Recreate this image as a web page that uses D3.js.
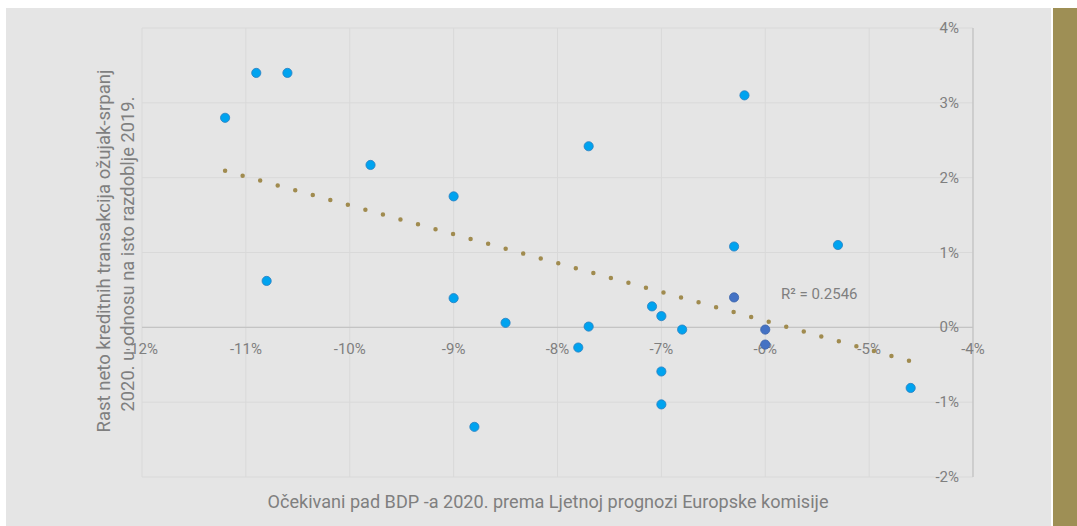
<!DOCTYPE html>
<html>
<head>
<meta charset="utf-8">
<script src="https://d3js.org/d3.v7.min.js"></script>
<style>
	body { margin: 0; background: #fff; }
	text { font-family: Roboto, "Liberation Sans", sans-serif; }
</style>
</head>
<body>
<svg id="chart"></svg>
<script>

// BDP pad (x, %) vs rast kreditnih transakcija (y, %)
const gdpDrop = [-11.2, -10.9, -10.6, -9.8, -10.8, -9.0, -9.0, -8.5, -8.8, -7.7, -7.7, -7.8,
	-7.09, -7.0, -6.8, -7.0, -7.0, -6.2, -6.3, -5.3, -4.6, -6.3, -6.0, -6.0];
const creditGrowth = [2.8, 3.4, 3.4, 2.17, 0.62, 1.75, 0.39, 0.06, -1.33, 2.42, 0.01, -0.27,
	0.28, 0.15, -0.03, -0.59, -1.03, 3.1, 1.08, 1.10, -0.81, 0.40, -0.03, -0.23];
// highlighted countries (darker blue)
const highlight = [false, false, false, false, false, false, false, false, false, false, false, false,
	false, false, false, false, false, false, false, false, false, true, true, true];

const xTicks = [-12, -11, -10, -9, -8, -7, -6, -5, -4];
const yTicks = [-2, -1, 0, 1, 2, 3, 4];
const r2Label = "R² = 0.2546";
const xTitle = "Očekivani pad BDP -a 2020. prema Ljetnoj prognozi Europske komisije";
const yTitle = ["Rast neto kreditnih transakcija ožujak-srpanj", "2020. u odnosu na isto razdoblje 2019."];

const W = 1077, H = 526;
let svg = d3.select("#chart").attr("width", W).attr("height", H);

svg.append("rect").attr("x", 6).attr("y", 8).attr("width", 1045).attr("height", H - 8).attr("fill", "#e5e5e5");
svg.append("rect").attr("x", 1053).attr("y", 8).attr("width", 24).attr("height", H - 8).attr("fill", "#9e8f55");

let x = d3.scaleLinear().domain([-12, -4]).range([142, 973]);
let y = d3.scaleLinear().domain([-2, 4]).range([477, 28]);

// grid
let grid = svg.append("g");
grid.selectAll(".vg").data(xTicks).enter().append("line")
	.attr("x1", d => x(d)).attr("x2", d => x(d)).attr("y1", y(4)).attr("y2", y(-2))
	.attr("stroke", "#d9d9d9").attr("stroke-width", 1);
grid.selectAll(".hg").data(yTicks).enter().append("line")
	.attr("x1", x(-12)).attr("x2", x(-4)).attr("y1", d => y(d)).attr("y2", d => y(d))
	.attr("stroke", "#d9d9d9").attr("stroke-width", 1);

// axes: x axis crosses at 0%, y axis sits at -4%
svg.append("line").attr("x1", x(-12)).attr("x2", x(-4)).attr("y1", y(0)).attr("y2", y(0))
	.attr("stroke", "#c4c4c4").attr("stroke-width", 1.3);
svg.append("line").attr("x1", x(-4)).attr("x2", x(-4)).attr("y1", y(4)).attr("y2", y(-2))
	.attr("stroke", "#c4c4c4").attr("stroke-width", 1.3);

svg.selectAll(".xt").data(xTicks).enter().append("text")
	.attr("x", d => x(d)).attr("y", y(0) + 27)
	.attr("text-anchor", "middle").attr("font-size", 15).attr("fill", "#7f7f7f")
	.text(d => d + "%");
svg.selectAll(".yt").data(yTicks).enter().append("text")
	.attr("x", x(-4) - 14).attr("y", d => y(d) + 5)
	.attr("text-anchor", "end").attr("font-size", 15).attr("fill", "#7f7f7f")
	.text(d => d + "%");

// linear trend (least squares)
let mx = d3.mean(gdpDrop), my = d3.mean(creditGrowth);
let sxy = d3.sum(gdpDrop, (v, i) => (v - mx) * (creditGrowth[i] - my));
let sxx = d3.sum(gdpDrop, v => (v - mx) * (v - mx));
let slope = sxy / sxx, icpt = my - slope * mx;
let ext = d3.extent(gdpDrop);
svg.append("path")
	.attr("d", d3.line().x(d => x(d)).y(d => y(icpt + slope * d))(ext))
	.attr("fill", "none").attr("stroke", "#a08b4f").attr("stroke-width", 4.5)
	.attr("stroke-linecap", "round").attr("stroke-dasharray", "0 18.2");

// points
let pts = gdpDrop.map((v, i) => ({ x: v, y: creditGrowth[i], hi: highlight[i] }));
svg.selectAll(".pt").data(pts).enter().append("circle")
	.attr("cx", d => x(d.x)).attr("cy", d => y(d.y)).attr("r", 4.6)
	.attr("fill", d => d.hi ? "#4472c4" : "#00a3ef")
	.attr("stroke", d => d.hi ? "#3a62aa" : "#2a7fc0").attr("stroke-width", 0.8);

svg.append("text").attr("x", 781).attr("y", 299).attr("font-size", 15).attr("fill", "#7f7f7f").text(r2Label);

// titles
svg.append("text").attr("x", 548).attr("y", 508).attr("text-anchor", "middle")
	.attr("font-size", 19).attr("fill", "#7f7f7f")
	.attr("textLength", 561).attr("lengthAdjust", "spacingAndGlyphs").text(xTitle);
let yt = svg.append("text").attr("transform", "rotate(-90)")
	.attr("text-anchor", "middle").attr("font-size", 19).attr("fill", "#7f7f7f");
yt.selectAll("tspan").data(yTitle).enter().append("tspan")
	.attr("x", (d, i) => i ? -254 : -251).attr("y", (d, i) => i ? 134 : 110)
	.attr("textLength", (d, i) => i ? 315 : 363).attr("lengthAdjust", "spacingAndGlyphs")
	.text(d => d);

</script>
</body>
</html>
